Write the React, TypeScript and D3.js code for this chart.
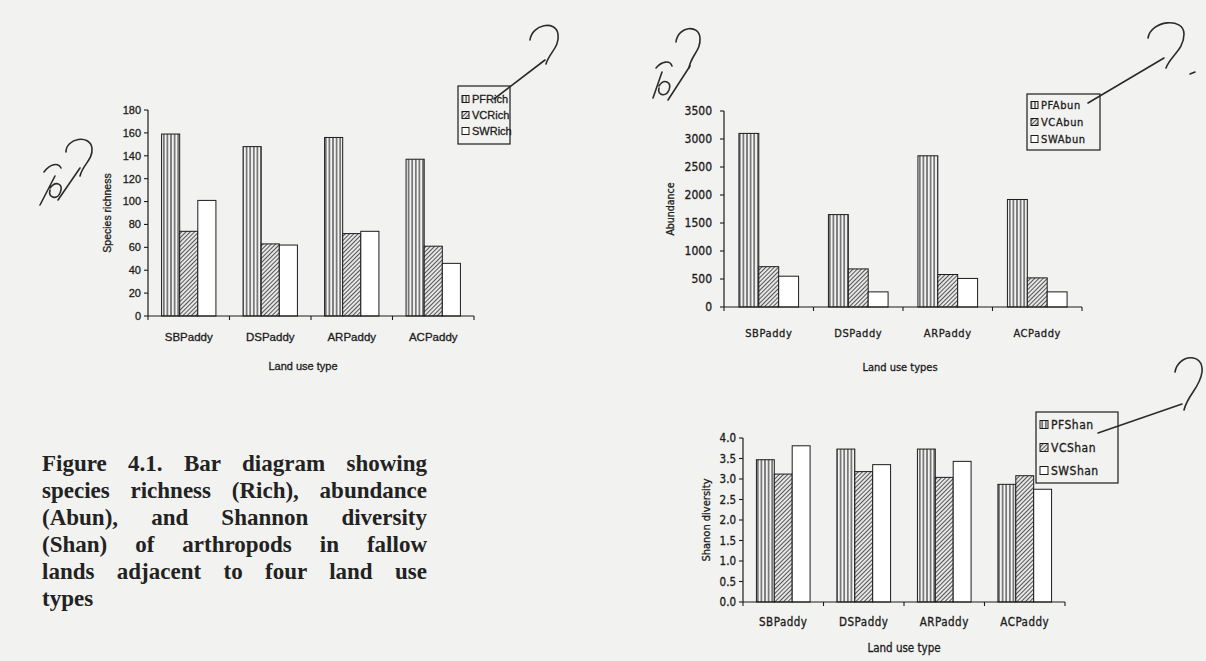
import React, { useEffect, useRef } from "react";
import * as d3 from "d3";

// ---------- data ----------
const categories = ["SBPaddy", "DSPaddy", "ARPaddy", "ACPaddy"];

const richPF = [159, 148, 156, 137];
const richVC = [74, 63, 72, 61];
const richSW = [101, 62, 74, 46];
const richNames = ["PFRich", "VCRich", "SWRich"];
const richTicks = [0, 20, 40, 60, 80, 100, 120, 140, 160, 180];

const abunPF = [3100, 1650, 2700, 1920];
const abunVC = [720, 680, 580, 520];
const abunSW = [550, 270, 510, 270];
const abunNames = ["PFAbun", "VCAbun", "SWAbun"];
const abunTicks = [0, 500, 1000, 1500, 2000, 2500, 3000, 3500];

const shanPF = [3.47, 3.73, 3.73, 2.87];
const shanVC = [3.12, 3.18, 3.04, 3.08];
const shanSW = [3.81, 3.35, 3.43, 2.75];
const shanNames = ["PFShan", "VCShan", "SWShan"];
const shanTicks = [0, 0.5, 1, 1.5, 2, 2.5, 3, 3.5, 4];

const captionLines = [
  "Figure 4.1. Bar diagram showing",
  "species richness (Rich), abundance",
  "(Abun), and Shannon diversity",
  "(Shan) of arthropods in fallow",
  "lands adjacent to four land use",
  "types",
];

// ---------- layout / style ----------
const INK = "#1c1c1c";
const BG = "#f2f2f0";
const FILLS = ["url(#pVert)", "url(#pDiag)", "#ffffff"];
const SANS = "'Liberation Sans', Arial, sans-serif";
const COND = "'DejaVu Sans Condensed', 'DejaVu Sans', sans-serif";

const richCfg = {
  x0: 148, x1: 474, yTop: 110, yBot: 316, max: 180, padOuter: 0.75,
  font: SANS, tickSize: 11, tickGap: 7, catSize: 11.5, spacing: 0,
  yLabel: "Species richness", yLabelX: 107, yLabelSize: 10.5,
  xLabel: "Land use type", xLabelX: 303, xLabelSize: 11,
  catY: 341, xLabelY: 370, fmt: (v: number) => String(v),
  legend: { x: 458, y: 86, w: 52, h: 58, row: 16, size: 11, sw: 7 },
};
const abunCfg = {
  x0: 724, x1: 1082, yTop: 111, yBot: 307, max: 3500, padOuter: 0.75,
  font: COND, tickSize: 12, tickGap: 12, catSize: 11, spacing: 0.6,
  yLabel: "Abundance", yLabelX: 670, yLabelSize: 10.5,
  xLabel: "Land use types", xLabelX: 900, xLabelSize: 11,
  catY: 337, xLabelY: 371, fmt: (v: number) => String(v),
  legend: { x: 1027, y: 94, w: 73, h: 56, row: 17, size: 11, sw: 7 },
};
const shanCfg = {
  x0: 743, x1: 1065, yTop: 438, yBot: 602, max: 4, padOuter: 0.75,
  font: COND, tickSize: 11.5, tickGap: 7, catSize: 11.5, spacing: 0.5,
  yLabel: "Shanon diversity", yLabelX: 706, yLabelSize: 11,
  xLabel: "Land use type", xLabelX: 904, xLabelSize: 11.5,
  catY: 626, xLabelY: 652, fmt: d3.format(".1f"),
  legend: { x: 1036, y: 412, w: 82, h: 71, row: 23, size: 12, sw: 8 },
};

const CAP = { x: 42, y: 471, w: 385, lh: 27, size: 23 };

type Cfg = typeof richCfg;

function BarChart({ cfg, series, names, ticks }: { cfg: Cfg; series: number[][]; names: string[]; ticks: number[] }) {
  const x = d3.scaleBand<string>().domain(categories).range([cfg.x0, cfg.x1]);
  const inner = d3
    .scaleBand<number>()
    .domain([0, 1, 2])
    .range([0, x.bandwidth()])
    .paddingInner(0)
    .paddingOuter(cfg.padOuter);
  const y = d3.scaleLinear().domain([0, cfg.max]).range([cfg.yBot, cfg.yTop]);
  const bounds = categories.map((c) => x(c) as number).concat([cfg.x1]);
  const txt = { fill: INK, stroke: INK, strokeWidth: 0.3, fontFamily: cfg.font } as const;
  const L = cfg.legend;
  return (
    <g>
      {series.map((vals, si) =>
        vals.map((v, ci) => (
          <rect
            key={`b${si}-${ci}`}
            x={(x(categories[ci]) as number) + (inner(si) as number)}
            y={y(v)}
            width={inner.bandwidth()}
            height={cfg.yBot - y(v)}
            fill={FILLS[si]}
            stroke={INK}
            strokeWidth={1}
          />
        ))
      )}
      {/* y axis */}
      <line x1={cfg.x0} x2={cfg.x0} y1={y(cfg.max)} y2={cfg.yBot} stroke={INK} strokeWidth={1.2} />
      {ticks.map((t) => (
        <g key={`t${t}`}>
          <line x1={cfg.x0 - 4} x2={cfg.x0} y1={y(t)} y2={y(t)} stroke={INK} strokeWidth={1.1} />
          <text x={cfg.x0 - cfg.tickGap} y={y(t)} dy="0.35em" textAnchor="end" fontSize={cfg.tickSize} {...txt}>
            {cfg.fmt(t)}
          </text>
        </g>
      ))}
      {/* x axis */}
      <line x1={cfg.x0} x2={cfg.x1} y1={cfg.yBot} y2={cfg.yBot} stroke={INK} strokeWidth={1.2} />
      {bounds.map((b, i) => (
        <line key={`xt${i}`} x1={b} x2={b} y1={cfg.yBot} y2={cfg.yBot + 4} stroke={INK} strokeWidth={1.1} />
      ))}
      {categories.map((c) => (
        <text
          key={c}
          x={(x(c) as number) + x.bandwidth() / 2}
          y={cfg.catY}
          textAnchor="middle"
          fontSize={cfg.catSize}
          letterSpacing={cfg.spacing}
          {...txt}
        >
          {c}
        </text>
      ))}
      <text x={cfg.xLabelX} y={cfg.xLabelY} textAnchor="middle" fontSize={cfg.xLabelSize} {...txt}>
        {cfg.xLabel}
      </text>
      <text
        transform={`translate(${cfg.yLabelX},${(cfg.yTop + cfg.yBot) / 2}) rotate(-90)`}
        textAnchor="middle"
        dy="0.35em"
        fontSize={cfg.yLabelSize}
        {...txt}
      >
        {cfg.yLabel}
      </text>
      {/* legend */}
      <rect x={L.x} y={L.y} width={L.w} height={L.h} fill="none" stroke={INK} strokeWidth={1.2} />
      {names.map((n, i) => {
        const cy = L.y + L.h / 2 + (i - 1) * L.row;
        return (
          <g key={n}>
            <rect x={L.x + 4} y={cy - L.sw / 2} width={L.sw} height={L.sw} fill={FILLS[i]} stroke={INK} strokeWidth={1} />
            <text x={L.x + L.sw + 7} y={cy} dy="0.35em" fontSize={L.size} letterSpacing={cfg.spacing} {...txt}>
              {n}
            </text>
          </g>
        );
      })}
    </g>
  );
}

const scribbles = [
  // top "?" over first chart and its stroke into the legend
  "M530,40 C532,24 556,20 558,34 C560,47 549,53 546,64",
  "M545,60 L494,99",
  // left margin "no / ?"
  "M66,152 C66,138 90,134 92,148 C93,160 83,164 80,176",
  "M40,205 L55,176 M50,188 C56,180 64,184 60,193 C57,200 48,198 50,190",
  "M44,172 C50,164 58,162 61,168",
  "M58,200 L80,168",
  // second chart "no / ?"
  "M676,42 C678,26 699,24 700,38 C701,51 691,55 689,68",
  "M653,98 L662,72 M659,86 C664,78 672,82 669,90 C666,97 657,96 659,88",
  "M656,68 C662,61 670,60 672,66",
  "M668,100 L690,66",
  // top-right "?" with stroke into legend
  "M1148,38 C1151,20 1184,17 1184,34 C1184,50 1170,56 1166,68",
  "M1164,58 L1088,103",
  "M1190,74 L1195,72",
  // right "?" near Shannon legend
  "M1175,372 C1178,354 1204,352 1202,372 C1200,388 1188,394 1184,410",
  "M1182,404 L1098,433",
];

export default function App() {
  const capRef = useRef<SVGGElement>(null);
  useEffect(() => {
    const g = d3.select(capRef.current);
    g.selectAll("*").remove();
    captionLines.forEach((line, i) => {
      const t = g
        .append("text")
        .attr("x", CAP.x)
        .attr("y", CAP.y + i * CAP.lh)
        .attr("font-family", "'Liberation Serif', 'Times New Roman', serif")
        .attr("font-weight", "bold")
        .attr("font-size", CAP.size)
        .attr("fill", "#222")
        .text(line);
      if (i < captionLines.length - 1) {
        const w = (t.node() as SVGTextElement).getComputedTextLength();
        const gaps = line.split(" ").length - 1;
        if (gaps > 0) t.attr("word-spacing", (CAP.w - w) / gaps);
      }
    });
  }, []);

  return (
    <svg
      width={1206}
      height={661}
      style={{ position: "absolute", left: 0, top: 0, display: "block" }}
    >
      <defs>
        <pattern id="pVert" patternUnits="userSpaceOnUse" width={3.6} height={10}>
          <rect width={3.6} height={10} fill="#f4f4f4" />
          <line x1={1.8} x2={1.8} y1={0} y2={10} stroke="#2a2a2a" strokeWidth={1.1} />
        </pattern>
        <pattern id="pDiag" patternUnits="userSpaceOnUse" width={3} height={3} patternTransform="rotate(45)">
          <rect width={3} height={3} fill="#e6e6e6" />
          <line x1={1.5} x2={1.5} y1={0} y2={3} stroke="#555" strokeWidth={1} />
        </pattern>
      </defs>
      <rect width={1206} height={661} fill={BG} />
      <BarChart cfg={richCfg} series={[richPF, richVC, richSW]} names={richNames} ticks={richTicks} />
      <BarChart cfg={abunCfg} series={[abunPF, abunVC, abunSW]} names={abunNames} ticks={abunTicks} />
      <BarChart cfg={shanCfg} series={[shanPF, shanVC, shanSW]} names={shanNames} ticks={shanTicks} />
      <g ref={capRef} />
      <g fill="none" stroke="#2b2b2b" strokeWidth={1.6} strokeLinecap="round">
        {scribbles.map((d, i) => (
          <path key={i} d={d} />
        ))}
      </g>
    </svg>
  );
}
